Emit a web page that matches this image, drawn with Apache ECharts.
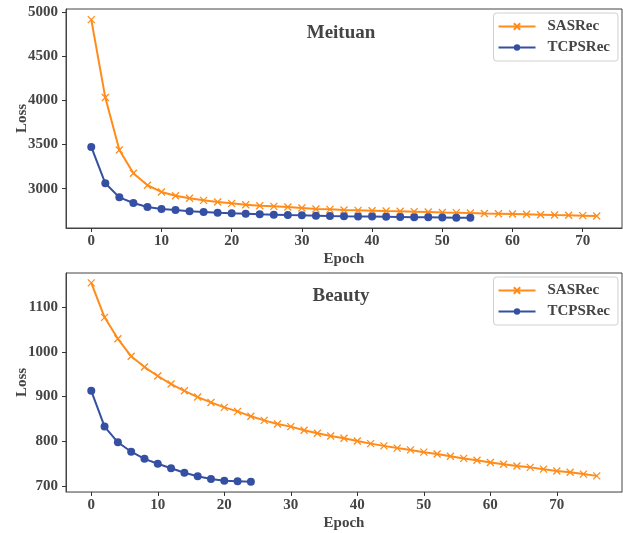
<!DOCTYPE html>
<html>
<head>
<meta charset="utf-8">
<script src="https://cdn.jsdelivr.net/npm/echarts@6/dist/echarts.min.js"></script>
<style>html,body{margin:0;padding:0;background:#fff}#c{width:623px;height:533px}</style>
</head>
<body>
<div id="c"></div>
<script>
// ---- data ----
const meituanEpochsSAS = [0,2,4,6,8,10,12,14,16,18,20,22,24,26,28,30,32,34,36,38,40,42,44,46,48,50,52,54,56,58,60,62,64,66,68,70,72];
const meituanSAS = [4915,4032,3439,3175,3039,2963,2921,2891,2868,2849,2834,2819,2807,2800,2792,2781,2770,2766,2758,2755,2751,2747,2744,2740,2736,2731,2729,2725,2719,2717,2714,2710,2706,2702,2699,2695,2691];
const meituanEpochsTCP = [0,2,4,6,8,10,12,14,16,18,20,22,24,26,28,30,32,34,36,38,40,42,44,46,48,50,52,54];
const meituanTCP = [3473,3061,2902,2838,2792,2770,2758,2744,2736,2728,2721,2717,2710,2706,2702,2699,2695,2691,2688,2686,2684,2682,2680,2678,2676,2674,2672,2670];

const beautyEpochsSAS = [0,2,4,6,8,10,12,14,16,18,20,22,24,26,28,30,32,34,36,38,40,42,44,46,48,50,52,54,56,58,60,62,64,66,68,70,72,74,76];
const beautySAS = [1154,1077,1029,990,966,946,928,913,899,887,876,867,856,847,839,833,825,818,812,807,801,795,790,785,781,776,772,767,762,758,753,749,745,742,738,734,731,727,723];
const beautyEpochsTCP = [0,2,4,6,8,10,12,14,16,18,20,22,24];
const beautyTCP = [913,833,798,777,761,750,740,730,722,716,712,711,710];

const xTicks = [0,10,20,30,40,50,60,70];
const meituanYTicks = [3000,3500,4000,4500,5000];
const beautyYTicks = [700,800,900,1000,1100];
const titles = ['Meituan','Beauty'];
const seriesNames = ['SASRec','TCPSRec'];

// ---- style ----
const FONT = '"Liberation Serif","Times New Roman",serif';
const TXT = '#444';
const ORANGE = '#ff8c1a';
const BLUE = '#3550a3';
const XPATH = 'path://M0,0L10,10M0,10L10,0';

function pairs(xs, ys){ return xs.map((x,i)=>[x, ys[i]]); }

function xAxis(gridIndex, min, max, lineColor){
  return {
    type:'value', gridIndex, min, max, z:5,
    name:'Epoch', nameLocation:'middle', nameGap:24, nameMoveOverlap:false,
    nameTextStyle:{fontFamily:FONT,fontWeight:'bold',fontSize:15,color:TXT},
    axisLine:{show:true,onZero:false,lineStyle:{color:lineColor,width:1}},
    axisTick:{show:true,length:4,customValues:xTicks,lineStyle:{color:'#333',width:1}},
    axisLabel:{customValues:xTicks,margin:6,fontFamily:FONT,fontWeight:'bold',fontSize:15,color:TXT,
               formatter:v=>String(v)},
    splitLine:{show:false}
  };
}
function yAxis(gridIndex, min, max, ticks){
  return {
    type:'value', gridIndex, min, max, z:5,
    name:'Loss', nameLocation:'middle', nameGap:36, nameRotate:90, nameMoveOverlap:false,
    nameTextStyle:{fontFamily:FONT,fontWeight:'bold',fontSize:15,color:TXT},
    axisLine:{show:true,onZero:false,lineStyle:{color:'#444',width:1}},
    axisTick:{show:true,length:4,customValues:ticks,lineStyle:{color:'#333',width:1}},
    axisLabel:{customValues:ticks,margin:8,fontFamily:FONT,fontWeight:'bold',fontSize:15,color:TXT,
               formatter:v=>String(v)},
    splitLine:{show:false}
  };
}
function sasSeries(idx, data){
  return {
    name:seriesNames[0], type:'line', xAxisIndex:idx, yAxisIndex:idx, data,
    symbol:XPATH, symbolSize:7, showAllSymbol:true,
    lineStyle:{color:ORANGE,width:2},
    itemStyle:{color:ORANGE,borderColor:ORANGE,borderWidth:1.3},
    emphasis:{disabled:true}, z:3
  };
}
function tcpSeries(idx, data){
  return {
    name:seriesNames[1], type:'line', xAxisIndex:idx, yAxisIndex:idx, data,
    symbol:'circle', symbolSize:8, showAllSymbol:true,
    lineStyle:{color:BLUE,width:2},
    itemStyle:{color:BLUE,borderWidth:0},
    emphasis:{disabled:true}, z:4
  };
}
function legend(top){
  return {
    data:seriesNames, orient:'vertical', right:5, top,
    itemWidth:37, itemHeight:8, itemGap:6,
    padding:[6,8,6,4],
    borderColor:'#d0d0d0', borderWidth:1, borderRadius:3,
    backgroundColor:'rgba(255,255,255,0.8)',
    textStyle:{fontFamily:FONT,fontWeight:'bold',fontSize:15,color:TXT,padding:[0,0,0,7]}
  };
}

const chart = echarts.init(document.getElementById('c'), null, {renderer:'canvas'});
chart.setOption({
  animation:false,
  backgroundColor:'#fff',
  title:[
    {text:titles[0], left:336, top:19, textAlign:'center',
     textStyle:{fontFamily:FONT,fontWeight:'bold',fontSize:19,color:TXT}},
    {text:titles[1], left:336, top:282, textAlign:'center',
     textStyle:{fontFamily:FONT,fontWeight:'bold',fontSize:19,color:TXT}}
  ],
  legend:[legend(13), legend(277)],
  grid:[
    {left:66, top:9, width:556, height:219, show:true, borderColor:'#444', borderWidth:1,
     backgroundColor:'transparent', outerBoundsMode:'none', containLabel:false},
    {left:66, top:273, width:556, height:219, show:true, borderColor:'#444', borderWidth:1,
     backgroundColor:'transparent', outerBoundsMode:'none', containLabel:false}
  ],
  xAxis:[xAxis(0,-3.6,75.6,'#444'), xAxis(1,-3.8,79.8,'#999')],
  yAxis:[yAxis(0,2555,5035,meituanYTicks), yAxis(1,687,1176,beautyYTicks)],
  series:[
    sasSeries(0, pairs(meituanEpochsSAS, meituanSAS)),
    tcpSeries(0, pairs(meituanEpochsTCP, meituanTCP)),
    sasSeries(1, pairs(beautyEpochsSAS, beautySAS)),
    tcpSeries(1, pairs(beautyEpochsTCP, beautyTCP))
  ]
});
</script>
</body>
</html>
